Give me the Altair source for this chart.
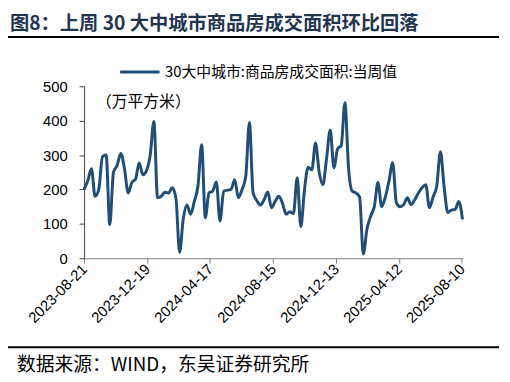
import altair as alt
import pandas as pd

series_name = "30大中城市:商品房成交面积:当周值"
title_text = "图8：上周 30 大中城市商品房成交面积环比回落"
source_text = "数据来源：WIND，东吴证券研究所"
unit_text = "（万平方米）"

start_date = "2023-08-21"
values = [
    200, 225, 260, 180, 200, 295, 300, 98, 250, 270,
    305, 260, 190, 220, 230, 277, 243, 255, 300, 398,
    176, 180, 192, 190, 205, 175, 17, 115, 155, 128,
    165, 210, 330, 118, 190, 195, 222, 108, 195, 198,
    200, 228, 176, 200, 237, 395, 190, 168, 155, 170,
    193, 147, 165, 180, 160, 128, 135, 130, 234, 92,
    200, 265, 257, 335, 250, 214, 290, 373, 263, 318,
    328, 452, 260, 195, 190, 178, 12, 85, 122, 150,
    220, 150, 178, 225, 278, 162, 150, 156, 176, 156,
    170, 190, 205, 214, 147, 178, 210, 310, 208, 133,
    140, 142, 165, 113,
]
tick_dates = [(2023, 8, 21), (2023, 12, 19), (2024, 4, 17), (2024, 8, 15),
              (2024, 12, 13), (2025, 4, 12), (2025, 8, 10)]
y_ticks = [0, 100, 200, 300, 400, 500]

df = pd.DataFrame({
    "date": pd.date_range(start_date, periods=len(values), freq="7D"),
    "value": values,
    "series": series_name,
})

W, H = 383, 174
FONT = "Noto Sans CJK SC"
NUM_FONT = "Liberation Sans"

line = alt.Chart(df).mark_line(strokeWidth=3, interpolate="monotone").encode(
    x=alt.X("date:T",
            scale=alt.Scale(domain=[alt.DateTime(year=2023, month=8, date=21),
                                    alt.DateTime(year=2025, month=8, date=11)]),
            axis=alt.Axis(values=[alt.DateTime(year=y, month=m, date=d) for y, m, d in tick_dates],
                          format="%Y-%m-%d", labelAngle=-45, labelAlign="right",
                          labelBaseline="middle", labelFont=NUM_FONT, labelFontSize=15,
                          labelColor="#000000", tickSize=5, labelPadding=3,
                          labelOverlap=False, labelBound=False, labelFlush=False,
                          domainColor="#7f7f7f", tickColor="#7f7f7f", grid=False,
                          title=None)),
    y=alt.Y("value:Q", scale=alt.Scale(domain=[0, 500], nice=False),
            axis=alt.Axis(values=y_ticks, labelFont=NUM_FONT, labelFontSize=15,
                          labelColor="#000000", tickSize=5, labelPadding=12,
                          domainColor="#404040", tickColor="#404040", grid=False,
                          title=None)),
    color=alt.Color("series:N", scale=alt.Scale(range=["#1F4E79"]),
                    legend=alt.Legend(orient="none", legendX=35, legendY=-36, title=None,
                                      symbolType="stroke", symbolSize=1600,
                                      symbolStrokeWidth=3, labelFont=FONT,
                                      labelFontSize=15, labelColor="#000000",
                                      labelOffset=4, labelLimit=0)),
)

title_layer = alt.Chart(pd.DataFrame({"t": [title_text]})).mark_text(
    align="left", baseline="middle", font=FONT, fontSize=19.5, fontWeight="bold",
    color="#1F3552").encode(x=alt.value(-75), y=alt.value(-63), text="t:N")

unit_layer = alt.Chart(pd.DataFrame({"t": [unit_text]})).mark_text(
    align="left", baseline="middle", font=FONT, fontSize=16, color="#000000"
).encode(x=alt.value(12), y=alt.value(16), text="t:N")

source_layer = alt.Chart(pd.DataFrame({"t": [source_text]})).mark_text(
    align="left", baseline="middle", font=FONT, fontSize=19, color="#000000"
).encode(x=alt.value(-68), y=alt.value(282), text="t:N")

top_rule = alt.Chart(pd.DataFrame({"a": [0]})).mark_rule(color="#000000", strokeWidth=2).encode(
    x=alt.value(-77), x2=alt.value(420), y=alt.value(-50))
bottom_rule = alt.Chart(pd.DataFrame({"a": [0]})).mark_rule(color="#000000", strokeWidth=2).encode(
    x=alt.value(-77), x2=alt.value(420), y=alt.value(264))

chart = alt.layer(line, title_layer, unit_layer, source_layer, top_rule, bottom_rule).properties(
    width=W, height=H,
    autosize=alt.AutoSizeParams(type="none"),
    padding={"left": 77, "top": 77, "right": 40, "bottom": 122},
    background="#ffffff",
).configure_view(stroke=None)

chart.save("out.html", embed_options={"renderer": "svg", "actions": False})
